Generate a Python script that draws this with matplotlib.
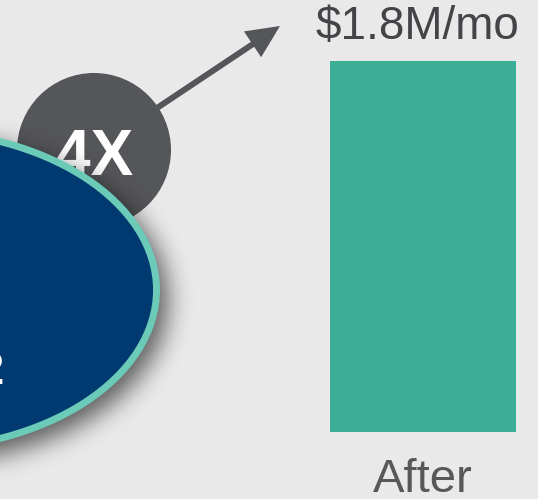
import numpy as np
import matplotlib
matplotlib.use('Agg')
import matplotlib.pyplot as plt
from matplotlib.patches import Ellipse, Circle

plt.rcParams['font.family'] = ['Liberation Sans', 'DejaVu Sans']

# data
categories = ["After"]
values = [1.8]
value_labels = ["$1.8M/mo"]
multiplier = "4X"

BG = "#e9e9e9"
BAR = "#3cae96"
NAVY = "#003a70"
TEAL = "#6ccab8"
GREY = "#555659"

W, H = 538, 499
fig = plt.figure(figsize=(W / 100, H / 100), dpi=100, facecolor=BG)

# bar axes (pixel box of the bar: x 330..516, y 61..432)
bx0, bx1, by0, by1 = 330, 516, 61, 432
ax = fig.add_axes([bx0 / W, (H - by1) / H, (bx1 - bx0) / W, (by1 - by0) / H])
ax.set_facecolor(BG)
x = np.arange(len(categories))
ax.bar(x, values, width=1.0, color=BAR)
ax.set_xlim(-0.5, 0.5)
ax.set_ylim(0, max(values))
ax.axis('off')
for xi, v, lab, cat in zip(x, values, value_labels, categories):
    ax.annotate(lab, (xi, v), xytext=(-4, 16), textcoords='offset points',
                ha='center', va='baseline', fontsize=33, color="#444448",
                annotation_clip=False)
    ax.annotate(cat, (xi, 0), xytext=(0, -43.3), textcoords='offset points',
                ha='center', va='baseline', fontsize=34, color="#58585b",
                annotation_clip=False)

# overlay in pixel coords
ov = fig.add_axes([0, 0, 1, 1], zorder=5)
ov.patch.set_alpha(0)

# arrow + circle
ov.arrow(94, 150, 280 - 94, 26 - 150, width=6, head_width=31, head_length=33,
         length_includes_head=True, color=GREY, lw=0, zorder=1)
ov.add_patch(Circle((94, 150), 77, color=GREY, lw=0, zorder=2))
ov.text(94, 175, multiplier, ha='center', va='baseline', fontsize=46,
        fontweight='bold', color='white', zorder=3)

# ellipse shadow (blurred)
ecx, ecy, ea, eb = -90, 290, 250, 163
xs = np.arange(-140, 560) + 0.5
ys = np.arange(-40, 540) + 0.5
XX, YY = np.meshgrid(xs, ys)
mask = (((XX - ecx - 8) / ea) ** 2 + ((YY - ecy - 10) / eb) ** 2 <= 1).astype(float)
sig = 12
kx = np.arange(-3 * sig, 3 * sig + 1)
k = np.exp(-kx ** 2 / (2 * sig ** 2))
k /= k.sum()
blur = np.apply_along_axis(lambda r: np.convolve(r, k, mode='same'), 1, mask)
blur = np.apply_along_axis(lambda c: np.convolve(c, k, mode='same'), 0, blur)
rgba = np.zeros(blur.shape + (4,))
rgba[..., 3] = blur * 0.6
ov.imshow(rgba, extent=(xs[0] - 0.5, xs[-1] + 0.5, ys[-1] + 0.5, ys[0] - 0.5),
          origin='upper', interpolation='bilinear', aspect='auto', zorder=4)

ov.add_patch(Ellipse((ecx, ecy), 2 * ea - 7, 2 * eb - 7, facecolor=NAVY,
                     edgecolor=TEAL, lw=5.0, zorder=5))
ov.text(3.5, 384, "2", ha='right', va='baseline', fontsize=34, fontweight='bold',
        color='white', zorder=6)

ov.set_xlim(0, W)
ov.set_ylim(H, 0)
ov.axis('off')

fig.savefig("out.png", dpi=100, facecolor=BG)
